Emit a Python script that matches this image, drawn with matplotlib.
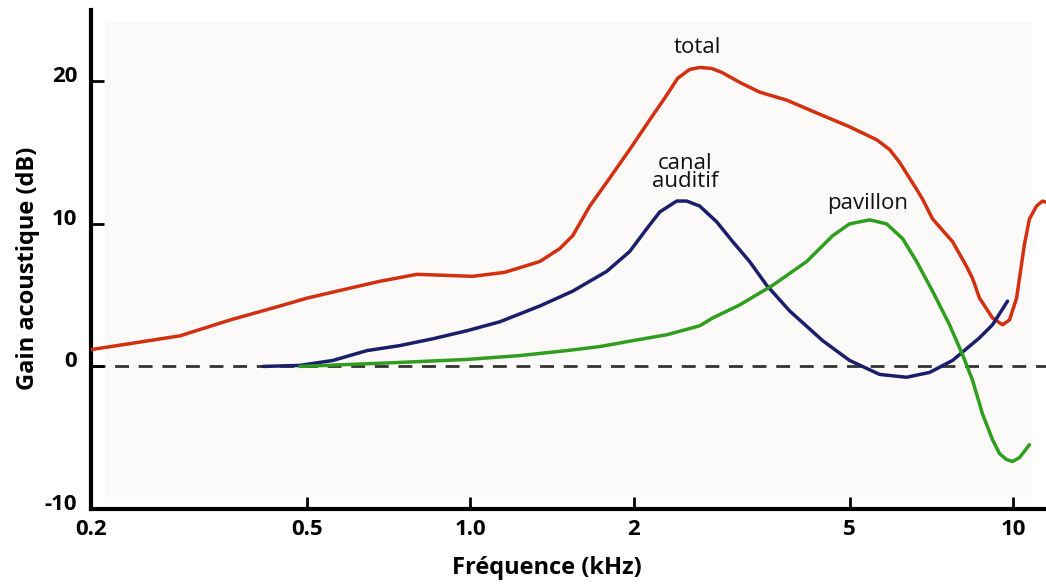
import numpy as np
import matplotlib
matplotlib.use("Agg")
import matplotlib.pyplot as plt
import matplotlib.transforms as mtransforms
from matplotlib.ticker import FixedLocator, NullLocator, FixedFormatter

plt.rcParams['font.family'] = ['Open Sans', 'DejaVu Sans']

# total gain (red), kHz / dB
total_f = [0.200, 0.236, 0.292, 0.361, 0.446, 0.500, 0.600, 0.681, 0.797, 0.897, 1.010,
           1.157, 1.343, 1.461, 1.544, 1.660, 1.784, 1.966, 2.140, 2.281, 2.410, 2.536,
           2.646, 2.784, 2.904, 3.134, 3.412, 3.826, 4.346, 4.998, 5.606, 5.924, 6.180,
           6.640, 6.810, 7.106, 7.736, 8.210, 8.420, 8.674, 9.166, 9.564, 9.850, 10.15,
           10.32, 10.50, 10.72, 11.05, 11.33, 11.48]
total_g = [1.18, 1.60, 2.15, 3.26, 4.24, 4.79, 5.49, 5.97, 6.46, 6.39, 6.32,
           6.60, 7.36, 8.26, 9.17, 11.25, 12.92, 15.21, 17.29, 18.82, 20.21, 20.83,
           20.97, 20.90, 20.63, 19.93, 19.24, 18.68, 17.78, 16.81, 15.90, 15.21, 14.31,
           12.43, 11.74, 10.35, 8.75, 7.01, 6.18, 4.79, 3.40, 2.92, 3.26, 4.79,
           6.67, 8.61, 10.35, 11.25, 11.60, 11.53]

# canal auditif (blue)
canal_f = [0.415, 0.485, 0.558, 0.645, 0.741, 0.853, 0.985, 1.133, 1.343, 1.544, 1.784,
           1.966, 2.113, 2.233, 2.400, 2.504, 2.646, 2.844, 3.044, 3.270, 3.516, 3.876,
           4.458, 4.998, 5.677, 6.364, 7.018, 7.736, 8.674, 9.166, 9.768]
canal_g = [0.0, 0.07, 0.42, 1.11, 1.46, 1.94, 2.50, 3.13, 4.24, 5.28, 6.67,
           8.06, 9.65, 10.83, 11.60, 11.60, 11.25, 10.14, 8.75, 7.36, 5.69, 3.89,
           1.81, 0.42, -0.56, -0.76, -0.42, 0.42, 2.01, 2.92, 4.58]

# pavillon (green)
pav_f = [0.485, 0.600, 0.741, 0.985, 1.233, 1.505, 1.731, 1.992, 2.301, 2.646, 2.796,
         3.134, 3.607, 4.166, 4.652, 4.998, 5.442, 5.848, 6.259, 6.640, 7.106, 7.638,
         8.070, 8.420, 8.784, 9.166, 9.441, 9.726, 9.977, 10.28, 10.72]
pav_g = [0.0, 0.14, 0.28, 0.49, 0.76, 1.11, 1.39, 1.81, 2.22, 2.85, 3.40,
         4.31, 5.69, 7.36, 9.17, 10.0, 10.28, 10.0, 8.96, 7.36, 5.28, 2.92,
         0.83, -0.97, -3.33, -5.14, -6.11, -6.53, -6.67, -6.39, -5.49]

xticks = [0.2, 0.5, 1.0, 2, 5, 10]
xtick_labels = ["0.2", "0.5", "1.0", "2", "5", "10"]
yticks = [-10, 0, 10, 20]
ytick_labels = ["-10", "0", "10", "20"]

fig = plt.figure(figsize=(10.46, 5.84), dpi=100)
ax = fig.add_axes([91/1046, 1 - 509/584, 1 - 91/1046, 499/584])

ax.set_xscale('log')
ax.set_xlim(0.2, 11.5)
ax.set_ylim(-10, 25)

# faint background panel
ax.add_patch(plt.Rectangle((0.015, 0.025), 0.97, 0.95, transform=ax.transAxes,
                           facecolor='#fbfaf9', edgecolor='none', zorder=0))

ax.axhline(0, color='#333333', lw=2, dashes=(5, 3.5), zorder=1)

ax.plot(total_f, total_g, color='#d3300f', lw=2.5, solid_capstyle='round',
        solid_joinstyle='round', zorder=3)
ax.plot(canal_f, canal_g, color='#1b1f6b', lw=2.5, solid_capstyle='round',
        solid_joinstyle='round', zorder=3)
ax.plot(pav_f, pav_g, color='#2f9e1f', lw=2.5, solid_capstyle='round',
        solid_joinstyle='round', zorder=3)

ax.text(2.62, 22.4, "total", ha='center', va='center', fontsize=16, color='#111111')
ax.text(2.49, 13.6, "canal\nauditif", ha='center', va='center', fontsize=16,
        color='#111111', linespacing=0.85)
ax.text(5.4, 11.4, "pavillon", ha='center', va='center', fontsize=16, color='#111111')

for s in ['top', 'right']:
    ax.spines[s].set_visible(False)
for s in ['left', 'bottom']:
    ax.spines[s].set_linewidth(3)

ax.xaxis.set_major_locator(FixedLocator(xticks))
ax.xaxis.set_major_formatter(FixedFormatter(xtick_labels))
ax.xaxis.set_minor_locator(NullLocator())
ax.set_yticks(yticks)
ax.set_yticklabels(ytick_labels)
ax.tick_params(axis='both', direction='in', length=9, width=2, labelsize=16)
ax.tick_params(axis='x', pad=7)
ax.tick_params(axis='y', pad=10)
for lab in ax.get_xticklabels() + ax.get_yticklabels():
    lab.set_fontweight('bold')
offset = mtransforms.ScaledTranslation(0, 7/100, fig.dpi_scale_trans)
for lab in ax.get_yticklabels():
    lab.set_transform(lab.get_transform() + offset)

fig.text(547/1046, 1 - 568/584, "Fréquence (kHz)", ha='center', va='center',
         fontsize=17, fontweight='bold')
fig.text(28/1046, 1 - 268/584, "Gain acoustique (dB)", ha='center', va='center',
         rotation=90, fontsize=17, fontweight='bold')

fig.savefig("out.png", dpi=100)
